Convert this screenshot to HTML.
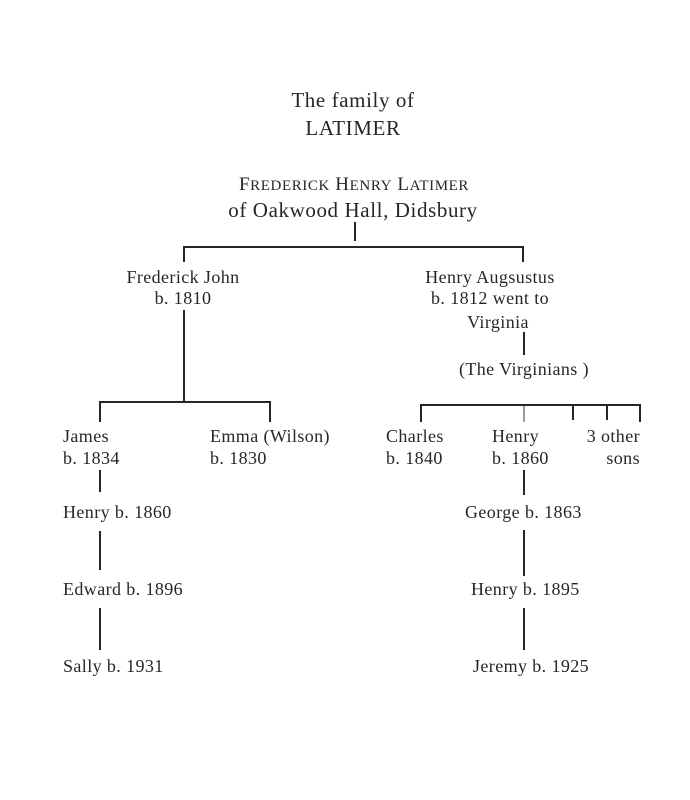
<!DOCTYPE html>
<html><head><style>
html,body{margin:0;padding:0;background:#fff;}
svg{display:block;}
text{font-family:"Liberation Serif",serif;fill:#2a2524;font-size:18px;letter-spacing:0.4px;}
</style></head><body>
<svg width="690" height="800" viewBox="0 0 690 800">
<g stroke="#2a2524" stroke-width="2" fill="none">
<line x1="355" y1="222" x2="355" y2="241"/>
<polyline points="184,262 184,247 523,247 523,262"/>
<line x1="184" y1="310" x2="184" y2="402"/>
<polyline points="100,422 100,402 270,402 270,422"/>
<line x1="100" y1="470" x2="100" y2="492"/>
<line x1="100" y1="531" x2="100" y2="570"/>
<line x1="100" y1="608" x2="100" y2="650"/>
<line x1="524" y1="332" x2="524" y2="355"/>
<polyline points="421,422 421,405 640,405 640,422"/>
<line x1="573" y1="405" x2="573" y2="420"/>
<line x1="607" y1="405" x2="607" y2="420"/>
<line x1="524" y1="470" x2="524" y2="495"/>
<line x1="524" y1="530" x2="524" y2="576"/>
<line x1="524" y1="608" x2="524" y2="650"/>
</g>
<line x1="524" y1="405" x2="524" y2="422" stroke="#4a2a40" stroke-width="1"/>
<text x="353" y="107" text-anchor="middle" style="font-size:21px;letter-spacing:0.6px">The family of</text>
<text x="353" y="135" text-anchor="middle" style="font-size:21px;letter-spacing:0.6px">LATIMER</text>
<text x="354" y="190" text-anchor="middle" style="font-size:19px;letter-spacing:0.6px">F<tspan style="font-size:15px">REDERICK</tspan> H<tspan style="font-size:15px">ENRY</tspan> L<tspan style="font-size:15px">ATIMER</tspan></text>
<text x="353" y="217" text-anchor="middle" style="font-size:21px;letter-spacing:0.6px">of Oakwood Hall, Didsbury</text>
<text x="183" y="283" text-anchor="middle">Frederick John</text>
<text x="183" y="304" text-anchor="middle">b. 1810</text>
<text x="490" y="283" text-anchor="middle">Henry Augsustus</text>
<text x="490" y="304" text-anchor="middle">b. 1812 went to</text>
<text x="498" y="328" text-anchor="middle">Virginia</text>
<text x="524" y="375" text-anchor="middle">(The Virginians )</text>
<text x="63" y="442">James</text>
<text x="63" y="464">b. 1834</text>
<text x="210" y="442">Emma (Wilson)</text>
<text x="210" y="464">b. 1830</text>
<text x="386" y="442">Charles</text>
<text x="386" y="464">b. 1840</text>
<text x="492" y="442">Henry</text>
<text x="492" y="464">b. 1860</text>
<text x="640" y="442" text-anchor="end">3 other</text>
<text x="640" y="464" text-anchor="end">sons</text>
<text x="63" y="518">Henry b. 1860</text>
<text x="63" y="595">Edward b. 1896</text>
<text x="63" y="672">Sally b. 1931</text>
<text x="465" y="518">George b. 1863</text>
<text x="471" y="595">Henry b. 1895</text>
<text x="473" y="672">Jeremy b. 1925</text>
</svg>
</body></html>
